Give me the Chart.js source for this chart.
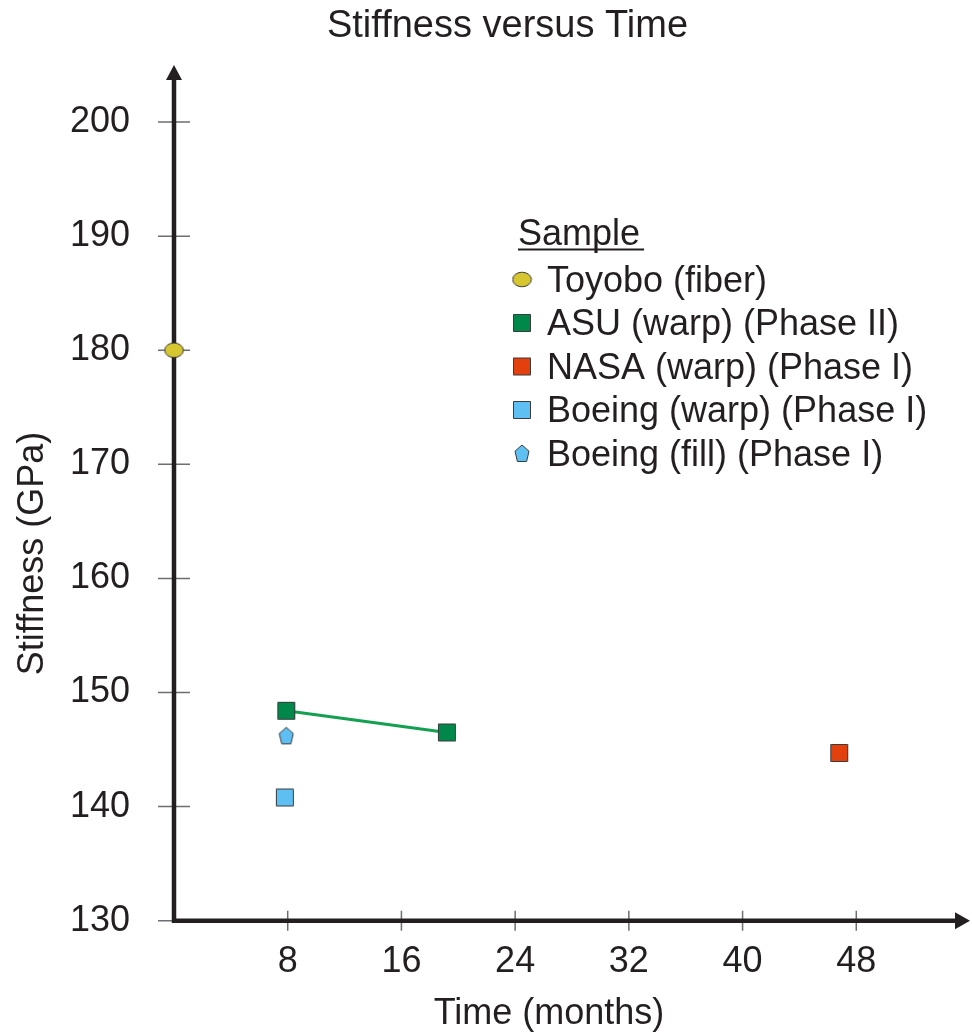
<!DOCTYPE html>
<html>
<head>
<meta charset="utf-8">
<script src="https://cdn.jsdelivr.net/npm/chart.js@4.4.1/dist/chart.umd.min.js"></script>
<style>
  html, body { margin: 0; padding: 0; background: #fff; }
  #wrap { width: 972px; height: 1035px; }
</style>
</head>
<body>
<div id="wrap"><canvas id="stiffChart" width="972" height="1035"></canvas></div>
<script>
const xTicks = [8, 16, 24, 32, 40, 48];
const yTicks = [130, 140, 150, 160, 170, 180, 190, 200];

const seriesLabels = [
  "Toyobo (fiber)",
  "ASU (warp) (Phase II)",
  "NASA (warp) (Phase I)",
  "Boeing (warp) (Phase I)",
  "Boeing (fill) (Phase I)"
];

const toyoboX = [0];
const toyoboY = [180];
const asuX = [7.9, 19.2];
const asuY = [148.4, 146.5];
const nasaX = [46.8];
const nasaY = [144.7];
const boeingWarpX = [7.8];
const boeingWarpY = [140.8];
const boeingFillX = [7.9];
const boeingFillY = [146.2];

const INK = "#231f20";
const FONT = "'Liberation Sans', Arial, sans-serif";

Chart.defaults.font.family = FONT;
Chart.defaults.color = INK;

function makeMarker(shape, fill){
  const c = document.createElement("canvas");
  const g = c.getContext("2d");
  if(shape === "ellipse"){
    c.width = 21; c.height = 17;
  } else if(shape === "pentagon"){
    c.width = 16; c.height = 19;
  } else {
    c.width = 20; c.height = 20;
  }
  g.fillStyle = fill;
  g.strokeStyle = "#3b3b3b";
  g.lineWidth = 1;
  g.beginPath();
  if(shape === "ellipse"){
    g.ellipse(10.5, 8.5, 9.3, 7.3, 0, 0, Math.PI * 2);
  } else if(shape === "pentagon"){
    g.moveTo(8, 1);
    g.lineTo(15, 7.2);
    g.lineTo(12.6, 17.5);
    g.lineTo(3.4, 17.5);
    g.lineTo(1, 7.2);
  } else {
    g.rect(1.5, 1.5, 17, 17);
  }
  g.closePath();
  g.fill();
  g.stroke();
  return c;
}

const markers = [
  makeMarker("ellipse", "#d6c731"),
  makeMarker("square", "#00874a"),
  makeMarker("square", "#e2400c"),
  makeMarker("square", "#5ebff3"),
  makeMarker("pentagon", "#5ebff3")
];

function points(xs, ys){
  return xs.map((x, i) => ({ x: x, y: ys[i] }));
}

// image markers keep a tiny radius so they don't push the chart area in
function series(i, xs, ys, extra){
  return Object.assign({
    label: seriesLabels[i],
    data: points(xs, ys),
    pointStyle: markers[i],
    pointRadius: 1,
    pointHoverRadius: 1,
    pointBorderWidth: 0,
    pointHoverBorderWidth: 0,
    showLine: false,
    clip: false
  }, extra || {});
}

// axes with arrows, crossing tick marks, titles and the "Sample" legend
const decor = {
  id: "decor",
  beforeDatasetsDraw(chart){
    const { ctx, chartArea: a, scales: { x, y } } = chart;
    ctx.save();
    ctx.strokeStyle = "#6d6e71";
    ctx.lineWidth = 1.5;
    ctx.beginPath();
    yTicks.forEach(v => {
      const py = y.getPixelForValue(v);
      ctx.moveTo(a.left - 16, py);
      ctx.lineTo(a.left + 16, py);
    });
    xTicks.forEach(v => {
      const px = x.getPixelForValue(v);
      ctx.moveTo(px, a.bottom - 10);
      ctx.lineTo(px, a.bottom + 10);
    });
    ctx.stroke();

    ctx.strokeStyle = INK;
    ctx.fillStyle = INK;
    ctx.lineWidth = 4.5;
    ctx.lineJoin = "miter";
    ctx.beginPath();
    ctx.moveTo(a.left, a.top + 10);
    ctx.lineTo(a.left, a.bottom);
    ctx.lineTo(a.right - 10, a.bottom);
    ctx.stroke();

    ctx.beginPath();
    ctx.moveTo(a.left, a.top);
    ctx.lineTo(a.left - 8, a.top + 15);
    ctx.lineTo(a.left + 8, a.top + 15);
    ctx.closePath();
    ctx.fill();
    ctx.beginPath();
    ctx.moveTo(a.right, a.bottom);
    ctx.lineTo(a.right - 15, a.bottom - 8.5);
    ctx.lineTo(a.right - 15, a.bottom + 8.5);
    ctx.closePath();
    ctx.fill();
    ctx.restore();
  },
  afterDraw(chart){
    const ctx = chart.ctx;
    ctx.save();
    ctx.fillStyle = INK;
    ctx.textBaseline = "alphabetic";

    ctx.textAlign = "center";
    ctx.font = "38px " + FONT;
    ctx.fillText("Stiffness versus Time", 507.5, 36.5);

    ctx.font = "36px " + FONT;
    ctx.fillText("Time (months)", 549, 1024);

    ctx.save();
    ctx.translate(43, 553.5);
    ctx.rotate(-Math.PI / 2);
    ctx.fillText("Stiffness (GPa)", 0, 0);
    ctx.restore();

    // legend
    ctx.textAlign = "left";
    const title = "Sample";
    ctx.fillText(title, 518, 245);
    const tw = ctx.measureText(title).width;
    ctx.strokeStyle = INK;
    ctx.lineWidth = 2;
    ctx.beginPath();
    ctx.moveTo(518, 249.5);
    ctx.lineTo(518 + tw + 4, 249.5);
    ctx.stroke();

    chart.data.datasets.forEach((ds, i) => {
      const rowY = 278.5 + i * 43.5;
      const m = ds.pointStyle;
      ctx.drawImage(m, 522 - m.width / 2, rowY + 1 - m.height / 2);
      ctx.fillText(ds.label, 547, rowY + 13);
    });
    ctx.restore();
  }
};

new Chart(document.getElementById("stiffChart"), {
  type: "scatter",
  data: {
    datasets: [
      series(0, toyoboX, toyoboY),
      series(1, asuX, asuY, { showLine: true, borderColor: "#14a050", borderWidth: 3 }),
      series(2, nasaX, nasaY),
      series(3, boeingWarpX, boeingWarpY),
      series(4, boeingFillX, boeingFillY)
    ]
  },
  options: {
    responsive: false,
    animation: false,
    events: [],
    layout: { padding: { top: 65, right: 2, bottom: 0, left: 0 } },
    plugins: {
      legend: { display: false },
      tooltip: { enabled: false },
      title: { display: false }
    },
    scales: {
      x: {
        type: "linear",
        min: 0,
        max: 56,
        afterBuildTicks: s => { s.ticks = xTicks.map(v => ({ value: v })); },
        afterFit: s => { s.height = 114.3; s.paddingLeft = 0; s.paddingRight = 0; },
        grid: { display: false, drawTicks: false },
        border: { display: false },
        ticks: { padding: 20, color: INK, font: { size: 36 }, maxRotation: 0, autoSkip: false }
      },
      y: {
        type: "linear",
        min: 130,
        max: 205,
        afterBuildTicks: s => { s.ticks = yTicks.map(v => ({ value: v })); },
        afterFit: s => { s.width = 174; s.paddingTop = 0; s.paddingBottom = 0; },
        grid: { display: false, drawTicks: false },
        border: { display: false },
        ticks: { padding: 44, color: INK, font: { size: 36 }, autoSkip: false }
      }
    }
  },
  plugins: [decor]
});
</script>
</body>
</html>
